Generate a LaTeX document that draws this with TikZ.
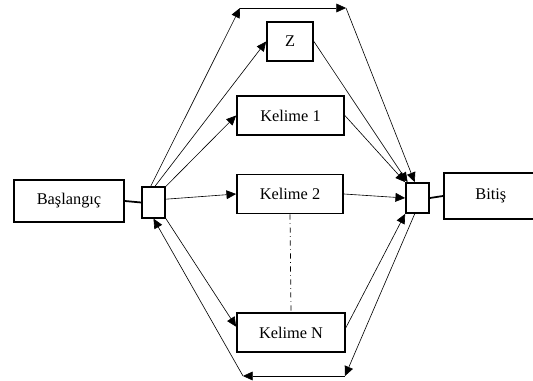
\documentclass[tikz,border=0pt]{standalone}
\usepackage{fontspec}
\setmainfont{Liberation Serif}
\usetikzlibrary{arrows.meta,positioning}

\begin{document}
\begin{tikzpicture}[x=0.02cm,y=-0.02cm,
  kutu/.style={draw,line width=1pt,minimum height=0.78cm,inner sep=0pt,font=\fontsize{9.3}{11}\selectfont},
  dugum/.style={draw,line width=1pt,minimum width=0.46cm,minimum height=0.61cm,inner sep=0pt},
  ok/.style={-{Triangle[length=5.5pt,width=5pt]},line width=0.35pt}]
\useasboundingbox (0,0) rectangle (533,381);

	\node [kutu,minimum width=2.2cm,minimum height=0.84cm] (baslangic) at (69,201) {Başlangıç};
	\node [dugum] (giris) at (153.5,202.5) {};
	\node [kutu,minimum width=0.92cm] (z) at (290,41.5) {Z};
	\node [kutu,minimum width=2.14cm] (kelime1) at (290.5,115.5) {Kelime 1};
	\node [kutu,minimum width=2.12cm] (kelime2) at (290,194) {Kelime 2};
	\node [kutu,minimum width=2.16cm] (kelimeN) at (291,332.5) {Kelime N};
	\node [dugum,minimum height=0.6cm] (cikis) at (417.5,198) {};
	\node [kutu,minimum width=1.88cm,minimum height=0.92cm,anchor=west] (bitis) at (443,196) {Bitiş};

	\coordinate (ustsol) at (240,8);
	\coordinate (ustsag) at (346,8);
	\coordinate (altsag) at (345,376);
	\coordinate (altsol) at (243,376);

	% giris ve cikis baglantilari
	\draw [line width=1pt] (baslangic.east) -- (giris.west);
	\draw [line width=1pt] (cikis.east) -- (bitis.west);

	% ust yol
	\draw [ok] (giris.100) -- (ustsol);
	\draw [ok] (ustsol) -- (ustsag);
	\draw [ok] (ustsag) -- (cikis.100);

	% kelimeler
	\draw [ok] (giris.85) -- (z.west);
	\draw [ok] (giris.north east) -- (kelime1.west);
	\draw [ok] (giris.15) -- (kelime2.west);
	\draw [ok] (giris.south east) -- (kelimeN.174);
	\draw [ok] (z.east) -- (cikis.122);
	\draw [ok] (kelime1.east) -- (cikis.north west);
	\draw [ok] (kelime2.east) -- (cikis.west);
	\draw [ok] (kelimeN.5) -- (cikis.south west);
	\draw [dash dot,line width=0.4pt] (kelime2.south) -- (kelimeN.north);

	% alt yol
	\draw [ok] (cikis.260) -- (altsag);
	\draw [ok] (altsag) -- (altsol);
	\draw [ok] (altsol) -- (giris.south);

\end{tikzpicture}
\end{document}
